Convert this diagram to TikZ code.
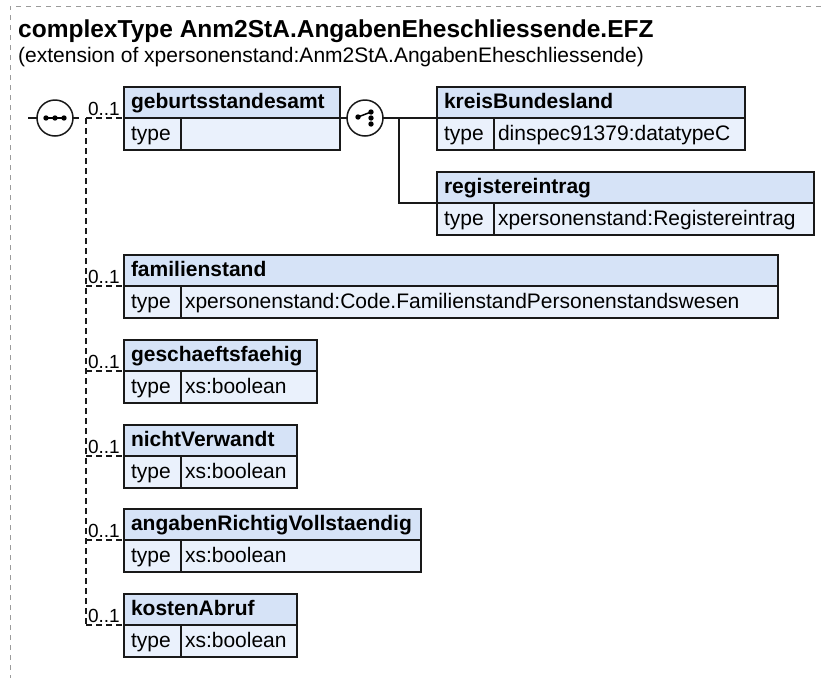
\documentclass[tikz,border=0pt]{standalone}
\usepackage{fontspec}
\setmainfont{Liberation Sans}
\definecolor{hdrc}{RGB}{214,227,247}
\definecolor{typc}{RGB}{234,241,252}
\definecolor{bordc}{RGB}{155,155,155}
\newcommand\elfont{\fontsize{21}{25}\selectfont}
\newcommand\elem[6]{%
  \node[hdrbox, minimum width=#4pt] (#1) at (#2,#3) {};
  \node[typebox, minimum width=#4pt] (#1-t) at (#1.south west) {};
  \node[lbl, font=\elfont\bfseries] (#1-l) at ([shift={(7pt,-21pt)}]#1.north west) {#5};
  \node[lbl] (#1-k) at ([shift={(7pt,-22pt)}]#1-t.north west) {type};
  \draw[boxline] ([xshift=57pt]#1-t.north west) -- ([xshift=57pt]#1-t.south west);
  \node[lbl] (#1-v) at ([shift={(61pt,-22pt)}]#1-t.north west) {#6};
}
\begin{document}
\begin{tikzpicture}[x=1pt,y=-1pt,
  hdrbox/.style={draw=black!90, fill=hdrc, line width=1.6pt, inner sep=0pt, outer sep=0pt, minimum height=31pt, anchor=north west},
  typebox/.style={draw=black!90, fill=typc, line width=1.6pt, inner sep=0pt, outer sep=0pt, minimum height=32pt, anchor=north west},
  boxline/.style={draw=black!90, line width=1.6pt},
  lbl/.style={inner sep=0pt, outer sep=0pt, anchor=base west, font=\elfont},
  conn/.style={draw=black!90, line width=1.5pt},
  optconn/.style={draw=black!90, line width=1.5pt, dash pattern=on 6pt off 4pt},
  occ/.style={inner sep=0pt, anchor=base east, font=\fontsize{19}{22}\selectfont},
  circ/.style={circle, draw=black!90, fill=white, line width=1.5pt, minimum size=36pt, inner sep=0pt, outer sep=0pt},
  frame/.style={draw=bordc, line width=1pt, dash pattern=on 5pt off 5pt}
]
\useasboundingbox (0,0) rectangle (821,678);
\draw[frame] (821,6) -- (10,6) -- (10,678);
\node[inner sep=0pt, anchor=base west, font=\fontsize{24.5}{29}\selectfont\bfseries] (title) at (18,37) {complexType Anm2StA.AngabenEheschliessende.EFZ};
\node[inner sep=0pt, anchor=base west, font=\fontsize{21}{25}\selectfont] (sub) at (18,62) {(extension of xpersonenstand:Anm2StA.AngabenEheschliessende)};

% elements
\elem{geb}{124}{87}{216}{geburtsstandesamt}{}
\elem{kreis}{437}{87}{308}{kreisBundesland}{dinspec91379:datatypeC}
\elem{reg}{437}{172}{377}{registereintrag}{xpersonenstand:Registereintrag}
\elem{fam}{124}{255}{654}{familienstand}{xpersonenstand:Code.FamilienstandPersonenstandswesen}
\elem{gesch}{124}{340}{193}{geschaeftsfaehig}{xs:boolean}
\elem{nicht}{124}{425}{173}{nichtVerwandt}{xs:boolean}
\elem{ang}{124}{509}{297}{angabenRichtigVollstaendig}{xs:boolean}
\elem{kost}{124}{594}{173}{kostenAbruf}{xs:boolean}

% sequence compositor
\node[circ] (seq) at (55,118) {};
\coordinate (seqin) at (28,118);
\coordinate (seqout) at (79,118);
\draw[conn] (seqin) -- (seq.west);
\draw[conn] (seq.east) -- (seqout);
\draw[line width=1.5pt] (44,118) -- (66,118);
\fill (46,118) circle[radius=2.7pt] (55,118) circle[radius=2.7pt] (64,118) circle[radius=2.7pt];

% optional trunk
\coordinate (trunk) at (86,118);
\draw[optconn] (trunk) -- (trunk |- kost.south west);
\foreach \e in {geb,fam,gesch,nicht,ang,kost}{
  \draw[optconn] (trunk |- \e.south west) -- (\e.south west);
  \node[occ] at ([shift={(-4pt,3pt)}]\e.south west) {0..1};
}

% choice compositor
\node[circ] (ch) at (365,118) {};
\draw[conn] (geb.south east) -- (ch.west);
\draw[conn] (ch.east) -- (kreis.south west);
\coordinate (br) at (399,118);
\draw[conn] (br) |- (reg.south west);
\draw[line width=1.5pt] (358,117) -- (371,112);
\fill (358,117) circle[radius=2.7pt] (371,112) circle[radius=2.7pt] (371,118) circle[radius=2.7pt] (371,124) circle[radius=2.7pt];
\end{tikzpicture}
\end{document}
